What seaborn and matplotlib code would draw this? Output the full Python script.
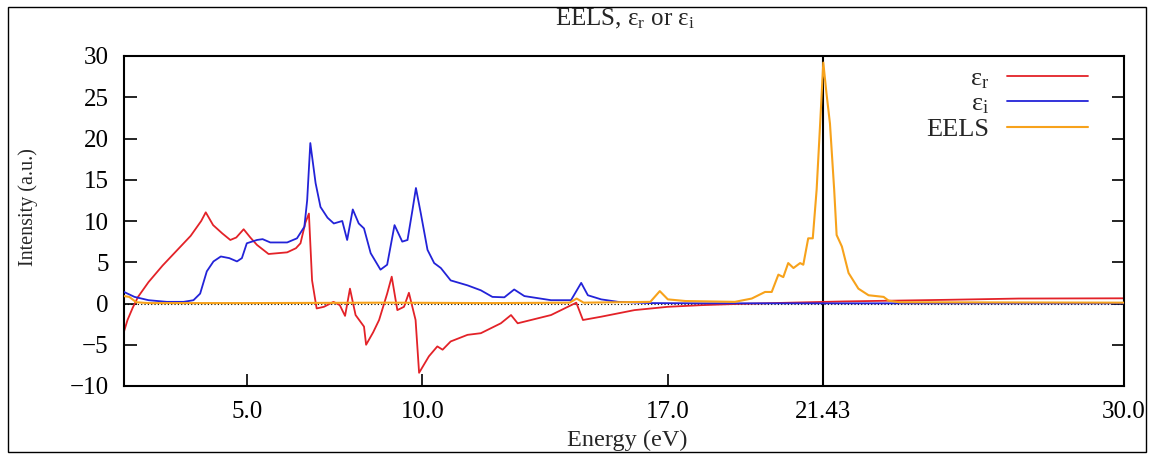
import matplotlib
matplotlib.use("Agg")
import matplotlib.pyplot as plt
from matplotlib.patches import Rectangle
import seaborn as sns
import pandas as pd

# ---- data ----
er_x = [1.5, 1.6, 1.75, 1.9, 2.2, 2.6, 3.0, 3.4, 3.7, 3.83, 4.04, 4.3, 4.53, 4.7, 4.91, 5.1,
        5.29, 5.62, 6.15, 6.4, 6.53, 6.67, 6.77, 6.86, 6.99, 7.2, 7.47, 7.65, 7.8, 7.94, 8.1,
        8.34, 8.4, 8.6, 8.77, 9.0, 9.13, 9.29, 9.48, 9.62, 9.81, 9.91, 10.19, 10.43, 10.58,
        10.81, 11.29, 11.67, 12.24, 12.53, 12.72, 13.67, 14.39, 14.58, 15.1, 16.05, 17.0,
        17.96, 19.0, 20.0, 22.0, 25.0, 27.0, 30.0]
er_y = [-3.4, -2.0, -0.5, 0.8, 2.6, 4.6, 6.4, 8.2, 10.0, 11.05, 9.5, 8.5, 7.7, 8.0, 9.0, 8.0,
        7.1, 6.0, 6.2, 6.7, 7.3, 9.8, 10.9, 2.8, -0.6, -0.4, 0.2, -0.2, -1.5, 1.8, -1.4,
        -2.8, -5.0, -3.5, -2.0, 1.2, 3.25, -0.8, -0.4, 1.3, -2.0, -8.4, -6.4, -5.2, -5.6,
        -4.6, -3.8, -3.6, -2.4, -1.4, -2.4, -1.4, 0.1, -2.0, -1.6, -0.8, -0.4,
        -0.2, -0.05, 0.05, 0.25, 0.45, 0.6, 0.63]

ei_x = [1.5, 1.8, 2.2, 2.72, 3.2, 3.48, 3.67, 3.86, 4.05, 4.26, 4.5, 4.72, 4.86, 5.0, 5.29,
        5.45, 5.67, 6.15, 6.43, 6.64, 6.72, 6.81, 6.96, 7.1, 7.3, 7.48, 7.72, 7.86, 8.02,
        8.19, 8.34, 8.53, 8.81, 9.0, 9.21, 9.43, 9.58, 9.72, 9.82, 9.96, 10.15, 10.34,
        10.53, 10.81, 11.29, 11.67, 12.0, 12.34, 12.62, 12.91, 13.67, 14.24, 14.53, 14.72,
        15.1, 15.58, 16.5, 18.0, 22.0, 30.0]
ei_y = [1.4, 0.8, 0.4, 0.2, 0.2, 0.4, 1.2, 3.9, 5.1, 5.7, 5.5, 5.1, 5.5, 7.3, 7.7,
        7.8, 7.4, 7.4, 7.9, 9.3, 12.5, 19.45, 14.6, 11.7, 10.4, 9.7, 10.0, 7.7, 11.4,
        9.7, 9.1, 6.1, 4.1, 4.7, 9.5, 7.5, 7.7, 11.3, 14.0, 10.9, 6.5, 4.9,
        4.3, 2.8, 2.2, 1.6, 0.8, 0.75, 1.7, 0.9, 0.4, 0.4, 2.5, 1.0,
        0.5, 0.2, 0.05, 0.02, 0.02, 0.02]

eels_x = [1.5, 1.65, 1.85, 2.2, 5.0, 9.0, 12.0, 14.2, 14.4, 14.6, 16.5, 16.77, 17.0, 17.5,
          18.91, 19.39, 19.77, 19.96, 20.15, 20.29, 20.43, 20.58, 20.77, 20.86, 21.0, 21.13,
          21.24, 21.34, 21.43, 21.52, 21.62, 21.74, 21.81, 21.96, 22.15, 22.43, 22.72,
          23.15, 23.29, 23.6, 30.0]
eels_y = [0.9, 0.8, 0.15, 0.05, 0.05, 0.1, 0.05, 0.1, 0.6, 0.1, 0.2, 1.5, 0.5, 0.3,
          0.2, 0.6, 1.4, 1.4, 3.5, 3.2, 4.9, 4.3, 4.9, 4.7, 7.9, 7.9,
          13.8, 21.8, 29.2, 25.5, 21.8, 13.8, 8.3, 6.9, 3.7, 1.8, 1.0,
          0.8, 0.35, 0.15, 0.1]

xtick_pos = [5.0, 10.0, 17.0, 21.43, 30.0]
xtick_labels = ["5.0", "10.0", "17.0", "21.43", "30.0"]
ytick_pos = [-10, -5, 0, 5, 10, 15, 20, 25, 30]
series_labels = [r"ε$_\mathregular{r}$", r"ε$_\mathregular{i}$", "EELS"]
title_text = r"EELS, ε$_\mathregular{r}$ or ε$_\mathregular{i}$"
marker_energy = 21.43

# ---- style ----
sns.set_style("ticks")
plt.rcParams["font.family"] = ["Liberation Serif", "DejaVu Serif"]
plt.rcParams["mathtext.fontset"] = "custom"
plt.rcParams["mathtext.rm"] = "Liberation Serif"
plt.rcParams["mathtext.it"] = "Liberation Serif:italic"
plt.rcParams["mathtext.bf"] = "Liberation Serif:bold"

W, H = 1153, 463
fig = plt.figure(figsize=(W / 100, H / 100), dpi=100)
ax = fig.add_axes([124 / W, 1 - 386 / H, (1124 - 124) / W, (386 - 56) / H])

ax.axhline(0, color="black", lw=0.8, ls=(0, (1, 2)), zorder=1)
ax.axvline(marker_energy, color="black", lw=1.5, zorder=1.5)

df_r = pd.DataFrame({"x": er_x, "y": er_y})
df_i = pd.DataFrame({"x": ei_x, "y": ei_y})
df_e = pd.DataFrame({"x": eels_x, "y": eels_y})
sns.lineplot(data=df_r, x="x", y="y", ax=ax, color="#e32228", lw=1.3, label=series_labels[0], zorder=2)
sns.lineplot(data=df_i, x="x", y="y", ax=ax, color="#2323d8", lw=1.3, label=series_labels[1], zorder=3)
sns.lineplot(data=df_e, x="x", y="y", ax=ax, color="#f7a21b", lw=1.5, label=series_labels[2], zorder=4)

ax.set_xlim(1.5, 30.0)
ax.set_ylim(-10, 30)
ax.set_xticks(xtick_pos)
ax.set_xticklabels(xtick_labels)
ax.set_yticks(ytick_pos)
ax.set_xlabel("")
ax.set_ylabel("")
ax.tick_params(axis="both", direction="in", labelsize=18, width=1.2, length=9, colors="black")
ax.tick_params(axis="y", right=True, pad=11)
ax.tick_params(axis="x", top=False, pad=11)
for s in ax.spines.values():
    s.set_linewidth(1.5)
    s.set_color("black")

leg = ax.legend(loc="upper right", bbox_to_anchor=(0.964, 0.968), frameon=False,
                markerfirst=False, fontsize=19, handlelength=3.07, handletextpad=0.68,
                labelspacing=0.05, borderpad=0, borderaxespad=0)

fig.text(625 / W, 1 - 19 / H, title_text, ha="center", va="center", fontsize=18)
fig.text(28 / W, 1 - 207 / H, "Intensity (a.u.)", ha="center", va="center", rotation=90, fontsize=14.5)
fig.text(627 / W, 1 - 440 / H, "Energy (eV)", ha="center", va="center", fontsize=17.5)

fig.patches.append(Rectangle((8 / W, 1 - 452 / H), (1146 - 8) / W, (452 - 7) / H,
                             transform=fig.transFigure, fill=False, ec="black", lw=1.0))

fig.savefig("out.png", dpi=100)
